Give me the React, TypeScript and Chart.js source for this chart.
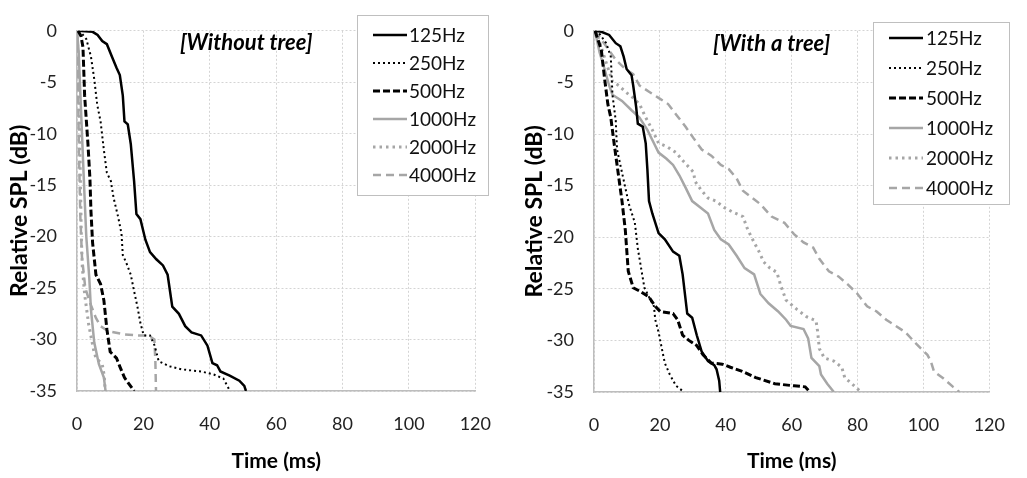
import React, { useEffect, useRef } from "react";
import { Chart, registerables } from "chart.js";

Chart.register(...registerables);

const FONT = "Lato, 'Open Sans', sans-serif";

// ---------- data ----------
const seriesLabels = ["125Hz", "250Hz", "500Hz", "1000Hz", "2000Hz", "4000Hz"];
const xTickValues = [0, 20, 40, 60, 80, 100, 120];
const yTickValues = [0, -5, -10, -15, -20, -25, -30, -35];
const chartTitles = ["[Without tree]", "[With a tree]"];

// Without tree: [time ms, relative SPL dB]
const noTree125: number[][] = [[0.3,0],[4.7,-0.1],[6.2,-0.4],[7.6,-1.0],[9.0,-1.3],[10.5,-2.5],[11.9,-3.6],[12.9,-4.3],[13.8,-6.3],[14.3,-8.8],[15.3,-9.1],[16.2,-11],[17.2,-14.6],[17.9,-17.8],[19.1,-18.3],[20.6,-20.3],[22.0,-21.5],[23.9,-22.2],[25.9,-22.8],[27.3,-23.7],[28.7,-26.8],[30.7,-27.5],[32.6,-28.7],[34.5,-29.3],[37.4,-29.6],[39.3,-30.6],[40.8,-32.3],[42.2,-32.5],[43.2,-33.1],[46,-33.5],[48.9,-34],[50.4,-34.5],[50.9,-35]];
const noTree250: number[][] = [[0.5,0],[1.3,-0.2],[2.8,-0.8],[4.2,-2.5],[5.2,-4.7],[6.1,-7.2],[7.1,-8.8],[8.1,-11.6],[9.0,-13.8],[10.2,-14.6],[11,-16.2],[12.4,-18.1],[13.4,-19.7],[13.8,-21.8],[14.8,-22.5],[16.2,-23.7],[17.2,-25.3],[18.2,-26.8],[19.1,-28.4],[20.1,-29.6],[22,-29.6],[23.4,-30.6],[24.6,-32.1],[27.8,-32.6],[31.6,-32.9],[37.4,-33.1],[41.2,-33.4],[44.1,-33.8],[46.1,-35]];
const noTree500: number[][] = [[0.3,0],[1.2,-0.5],[1.8,-1.6],[2.3,-6.3],[3.3,-11],[3.9,-14.4],[4.2,-17.5],[4.7,-20.6],[5.7,-23.7],[7.1,-24.6],[8.1,-26.2],[9,-29],[10,-31.2],[11.9,-31.8],[13,-32.7],[14.3,-33.7],[17.2,-35]];
const noTree1000: number[][] = [[0,0],[0.5,-2],[1,-6],[1.5,-10],[2,-14],[2.3,-16.3],[2.8,-20],[3.7,-24],[4.2,-27.1],[5.2,-30.3],[6.6,-32.4],[8.1,-33.7],[8.6,-35]];
const noTree2000: number[][] = [[0,0],[0.4,-3],[0.7,-8],[1,-14],[1.3,-20],[1.6,-23],[2.3,-25.6],[3.5,-28.5],[5,-31],[5.7,-31.8],[7.6,-32.4],[8.2,-33.5],[8.5,-35]];
const noTree4000: number[][] = [[0,0],[0.3,-5],[0.6,-12],[1,-18],[1.5,-22],[2.5,-25],[4,-26.5],[5.7,-27.9],[7.1,-28.7],[9.5,-29.2],[14.3,-29.5],[18.2,-29.6],[21.5,-29.6],[23.3,-30],[23.6,-32],[23.8,-35]];

// With a tree
const tree125: number[][] = [[0.3,0],[2.2,-0.1],[4.6,-0.4],[6.6,-1.2],[8,-1.5],[9,-2.5],[9.9,-3.7],[11.4,-4.3],[11.9,-5.3],[12.8,-7.4],[13.3,-9],[14.8,-9.3],[15.7,-10.9],[16.2,-13.4],[16.7,-16.5],[17.7,-17.7],[19.6,-19.6],[21.5,-20.2],[24,-21.4],[25.9,-21.8],[26.9,-23.6],[28.3,-27.4],[29.8,-27.8],[31.2,-29.5],[32.7,-31.1],[34.6,-32],[36.5,-32.4],[37.2,-32.8],[38,-33.9],[38.3,-35]];
const tree250: number[][] = [[0.3,0],[1.7,-0.3],[3.7,-1.2],[5.1,-2.5],[5.6,-6.2],[6.6,-8.7],[7,-11.5],[8,-13],[9.5,-15.2],[10.6,-16.8],[12.4,-18.6],[13.3,-21.1],[14.3,-23],[15.3,-24.9],[16.7,-25.8],[18.2,-26.7],[18.6,-28],[19.6,-29.2],[20.6,-30.8],[21.5,-32.2],[23,-33.3],[24.9,-34.4],[27.3,-35]];
const tree500: number[][] = [[0.3,0],[2.2,-1.8],[3.2,-4.6],[4.2,-7.1],[5.1,-8.4],[6.1,-10.9],[7,-13],[8.5,-16.5],[9.5,-19.3],[10.4,-23.3],[11.9,-24.9],[14.3,-25.3],[16.7,-25.8],[18.6,-26.7],[20.1,-27.2],[24,-27.4],[25.4,-28],[26.9,-29.5],[28.8,-30],[31.2,-30.5],[33.1,-31.4],[35.6,-32.2],[38.9,-32.3],[41.4,-32.6],[45,-33],[49.1,-33.6],[54.9,-34.2],[60.7,-34.4],[64.1,-34.5],[65.5,-35]];
const tree1000: number[][] = [[0.3,0],[1.7,-2.1],[3.2,-3.7],[4.6,-5.3],[5.6,-6.2],[8.5,-6.8],[11.4,-7.7],[13.8,-8.4],[16.2,-9.6],[18.2,-10.9],[19.6,-11.8],[22,-12.4],[24,-13],[25.9,-14],[27.8,-15.2],[29.8,-16.5],[32.2,-17.1],[34.6,-17.7],[36.5,-19.3],[38.5,-20.2],[40.9,-20.7],[43.3,-21.8],[45.7,-23],[48.6,-23.6],[50.5,-25.5],[53,-26.4],[55.9,-27.2],[58.3,-28],[59.7,-28.6],[63.6,-28.9],[65,-29.8],[66,-31.7],[68.4,-32.5],[68.9,-33.3],[70.8,-34.2],[72.8,-35]];
const tree2000: number[][] = [[0.3,0],[1.2,-0.6],[3.7,-3.1],[5.6,-4.9],[7.5,-5.3],[9.5,-5.9],[11.9,-6.5],[13.8,-7.1],[15.7,-8.4],[17.7,-9.6],[19.6,-10.9],[22,-11.2],[24.9,-11.8],[27.3,-12.7],[30.2,-13.7],[30.7,-14.6],[32.7,-15.5],[34.6,-16.2],[37,-16.5],[39.4,-17.1],[42.3,-17.6],[45.2,-18],[46.7,-19.3],[48.6,-20.5],[50.1,-21.4],[51.5,-22.4],[53.4,-23],[55.5,-23.4],[56.8,-24.8],[58.3,-26.1],[61.6,-27],[64.5,-27.7],[67.4,-28.1],[67.9,-29.2],[68.4,-30.8],[69.9,-31.7],[72.8,-32],[75.2,-32.6],[76.1,-33.6],[79,-34.4],[81,-35]];
const tree4000: number[][] = [[0.3,0],[3.7,-1.5],[6.6,-2.8],[9.5,-3.7],[11.9,-4.2],[13.8,-5.3],[16.7,-5.9],[19.6,-6.5],[22.5,-7.1],[24.9,-8.1],[27.8,-9.3],[30.2,-10.4],[32.7,-11.5],[35.6,-12.1],[38.5,-13],[40.9,-13.4],[43.3,-14.3],[45.2,-15.5],[48.1,-16.2],[50.5,-16.8],[53.9,-18],[57.8,-18.6],[60.7,-19.7],[63.6,-20.5],[66.5,-21],[68.4,-22.1],[71.3,-23.3],[74.2,-23.8],[77.1,-24.6],[80,-25.5],[82.9,-26.7],[85.8,-27.2],[88.7,-28],[91.6,-28.6],[94.5,-29.2],[97.4,-30.2],[101.2,-31.4],[102.2,-32],[103.2,-33],[106.1,-33.7],[109,-34.5],[110.9,-35]];

const noTreeSeries = [noTree125, noTree250, noTree500, noTree1000, noTree2000, noTree4000];
const treeSeries = [tree125, tree250, tree500, tree1000, tree2000, tree4000];

// ---------- styles ----------
const GRAY = "#a6a6a6";
const seriesStyles = [
  { color: "#000000", dash: [] as number[], width: 2.5 },
  { color: "#000000", dash: [2, 3], width: 2 },
  { color: "#000000", dash: [7, 3], width: 3 },
  { color: GRAY, dash: [] as number[], width: 2.5 },
  { color: GRAY, dash: [2.5, 4], width: 3 },
  { color: GRAY, dash: [8, 5], width: 2.5 },
];

const overlayPlugin = {
  id: "overlay",
  afterDraw(chart: any, _args: any, opts: any) {
    const ctx = chart.ctx as CanvasRenderingContext2D;
    ctx.save();
    ctx.font = `italic bold 22px ${FONT}`;
    ctx.fillStyle = "#000";
    ctx.textAlign = "left";
    ctx.textBaseline = "middle";
    ctx.fillText(opts.title, opts.titleX, opts.titleY);

    ctx.fillStyle = "#ffffff";
    ctx.fillRect(opts.boxX, opts.boxY, opts.boxW, opts.boxH);
    ctx.strokeStyle = "#bfbfbf";
    ctx.lineWidth = 1;
    ctx.strokeRect(opts.boxX + 0.5, opts.boxY + 0.5, opts.boxW, opts.boxH);

    chart.data.datasets.forEach((ds: any, i: number) => {
      const y = opts.firstY + i * opts.gap;
      ctx.beginPath();
      ctx.setLineDash(ds.borderDash || []);
      ctx.strokeStyle = ds.borderColor;
      ctx.lineWidth = ds.borderWidth;
      ctx.moveTo(opts.lineX1, y);
      ctx.lineTo(opts.lineX2, y);
      ctx.stroke();
      ctx.setLineDash([]);
      ctx.fillStyle = "#111";
      ctx.font = `19px ${FONT}`;
      ctx.textAlign = "left";
      ctx.textBaseline = "middle";
      ctx.fillText(ds.label, opts.textX, y + 1);
    });
    ctx.restore();
  },
};

function buildConfig(series: number[][][], layout: any, overlay: any): any {
  return {
    type: "line",
    data: {
      datasets: series.map((pts, i) => ({
        label: seriesLabels[i],
        data: pts.map((p) => ({ x: p[0], y: p[1] })),
        borderColor: seriesStyles[i].color,
        borderDash: seriesStyles[i].dash,
        borderWidth: seriesStyles[i].width,
        pointRadius: 0,
        tension: 0,
        fill: false,
      })),
    },
    plugins: [overlayPlugin],
    options: {
      responsive: false,
      animation: false,
      events: [],
      layout: { padding: { left: 0, right: layout.padRight, top: layout.padTop, bottom: 0 } },
      plugins: {
        legend: { display: false },
        tooltip: { enabled: false },
        overlay,
      },
      scales: {
        x: {
          type: "linear",
          min: 0,
          max: 120,
          afterBuildTicks: (s: any) => {
            s.ticks = xTickValues.map((v) => ({ value: v }));
          },
          afterFit: (s: any) => {
            s.height = layout.xAxisHeight;
          },
          ticks: {
            padding: 22,
            color: "#222",
            font: { family: FONT, size: 18 },
            maxRotation: 0,
            callback: (v: any) => String(v),
          },
          grid: { color: "#d4d4d4", lineWidth: 1, drawTicks: false },
          border: { display: true, color: "#bdbdbd", width: 1.5, dash: [2, 2] },
          title: {
            display: true,
            text: "Time (ms)",
            color: "#000",
            font: { family: FONT, size: 21, weight: "bold" },
            padding: { top: 0, bottom: layout.xTitlePad },
          },
        },
        y: {
          type: "linear",
          min: -35,
          max: 0,
          afterBuildTicks: (s: any) => {
            s.ticks = yTickValues.map((v) => ({ value: v }));
          },
          afterFit: (s: any) => {
            s.width = layout.yAxisWidth;
          },
          ticks: {
            padding: 20,
            color: "#222",
            font: { family: FONT, size: 18 },
            callback: (v: any) => String(v),
          },
          grid: { color: "#d4d4d4", lineWidth: 1, drawTicks: false },
          border: { display: true, color: "#bdbdbd", width: 1.5, dash: [2, 2] },
          title: {
            display: true,
            text: "Relative SPL (dB)",
            color: "#000",
            font: { family: FONT, size: 23, weight: "bold" },
            padding: { top: layout.yTitlePad, bottom: 0 },
          },
        },
      },
    },
  };
}

function Panel(props: { series: number[][][]; layout: any; overlay: any; left: number; width: number }) {
  const ref = useRef<HTMLCanvasElement | null>(null);
  useEffect(() => {
    if (!ref.current) return;
    const chart = new Chart(ref.current, buildConfig(props.series, props.layout, props.overlay));
    return () => chart.destroy();
  }, []);
  return (
    <canvas
      ref={ref}
      width={props.width}
      height={478}
      style={{ position: "absolute", left: props.left, top: 0, width: props.width, height: 478, display: "block" }}
    />
  );
}

export default function App() {
  return (
    <div style={{ position: "absolute", left: 0, top: 0, width: 1027, height: 478, background: "#fff", overflow: "hidden" }}>
      <Panel
        series={noTreeSeries}
        left={0}
        width={513}
        layout={{ padRight: 20, padTop: 16, xAxisHeight: 87, yAxisWidth: 77, xTitlePad: 4, yTitlePad: 6 }}
        overlay={{
          title: chartTitles[0], titleX: 180, titleY: 43,
          boxX: 357, boxY: 15, boxW: 131, boxH: 180,
          firstY: 35, gap: 28, lineX1: 373, lineX2: 407, textX: 409,
        }}
      />
      <Panel
        series={treeSeries}
        left={513}
        width={514}
        layout={{ padRight: 19, padTop: 17, xAxisHeight: 86, yAxisWidth: 81, xTitlePad: 4, yTitlePad: 8 }}
        overlay={{
          title: chartTitles[1], titleX: 200, titleY: 44,
          boxX: 360, boxY: 22, boxW: 136, boxH: 182,
          firstY: 38, gap: 30, lineX1: 376, lineX2: 410, textX: 413,
        }}
      />
    </div>
  );
}
